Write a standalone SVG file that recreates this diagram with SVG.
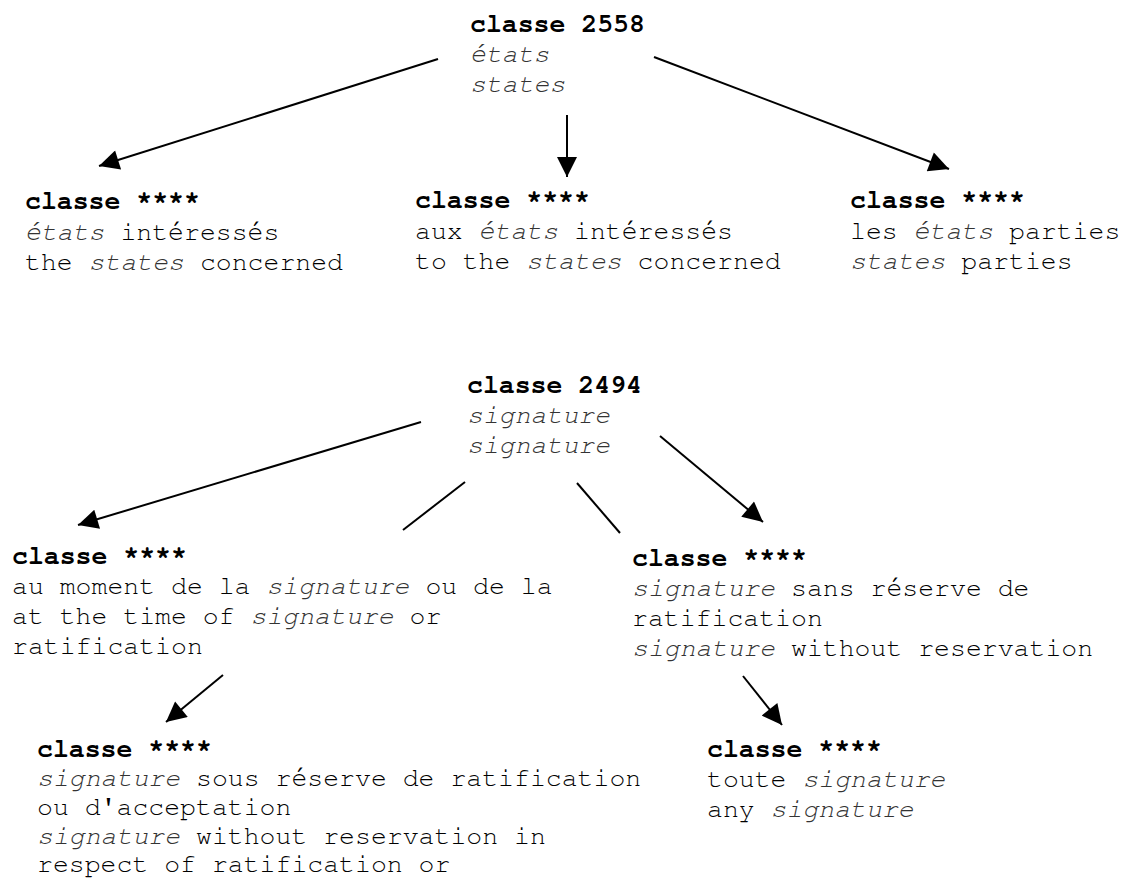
<svg xmlns="http://www.w3.org/2000/svg" width="1127" height="881" viewBox="0 0 1127 881">
<style>
text { font-family: "Nimbus Mono PS", "Nimbus Mono L", "FreeMono", "Courier New", "Liberation Mono", monospace; font-size: 26.5px; fill: #000; }
.b { font-weight: bold; }
.i { font-style: italic; fill: #333; }
.c { stroke: #000; stroke-width: 2; fill: none; }
</style>
<defs>
<marker id="ah" viewBox="0 0 10 10" refX="10" refY="5" markerUnits="userSpaceOnUse" markerWidth="26" markerHeight="20" orient="auto">
<path d="M0,0 L10,5 L0,10 z" fill="#000"/>
</marker>
</defs>
<rect width="1127" height="881" fill="#fff"/>
<g id="connectors">
<line class="c" x1="438" y1="59" x2="99" y2="166" marker-end="url(#ah)"/>
<line class="c" x1="567" y1="115" x2="567" y2="177" marker-end="url(#ah)"/>
<line class="c" x1="654" y1="57" x2="949" y2="169" marker-end="url(#ah)"/>
<line class="c" x1="421" y1="422" x2="78" y2="525" marker-end="url(#ah)"/>
<line class="c" x1="465" y1="482" x2="403" y2="530"/>
<line class="c" x1="577" y1="483" x2="620" y2="533"/>
<line class="c" x1="660" y1="436" x2="763" y2="522" marker-end="url(#ah)"/>
<line class="c" x1="223" y1="675" x2="166" y2="722" marker-end="url(#ah)"/>
<line class="c" x1="743" y1="676" x2="782" y2="725" marker-end="url(#ah)"/>
</g>
<g id="root1">
<text x="470" y="32" class="b">classe 2558</text>
<text x="470" y="62" class="i">états</text>
<text x="470" y="92" class="i">states</text>
</g>
<g id="c1">
<text x="25" y="209" class="b">classe ****</text>
<text x="25" y="240"><tspan class="i">états</tspan> intéressés</text>
<text x="25" y="270">the <tspan class="i">states</tspan> concerned</text>
</g>
<g id="c2">
<text x="415" y="208" class="b">classe ****</text>
<text x="415" y="239">aux <tspan class="i">états</tspan> intéressés</text>
<text x="415" y="269">to the <tspan class="i">states</tspan> concerned</text>
</g>
<g id="c3">
<text x="850" y="208" class="b">classe ****</text>
<text x="850" y="239">les <tspan class="i">états</tspan> parties</text>
<text x="850" y="269"><tspan class="i">states</tspan> parties</text>
</g>
<g id="root2">
<text x="467" y="393" class="b">classe 2494</text>
<text x="467" y="423" class="i">signature</text>
<text x="467" y="453" class="i">signature</text>
</g>
<g id="c4">
<text x="12" y="564" class="b">classe ****</text>
<text x="12" y="594">au moment de la <tspan class="i">signature</tspan> ou de la</text>
<text x="12" y="624">at the time of <tspan class="i">signature</tspan> or</text>
<text x="12" y="654">ratification</text>
</g>
<g id="c5">
<text x="632" y="566" class="b">classe ****</text>
<text x="632" y="596"><tspan class="i">signature</tspan> sans réserve de</text>
<text x="632" y="626">ratification</text>
<text x="632" y="656"><tspan class="i">signature</tspan> without reservation</text>
</g>
<g id="c6">
<text x="37" y="757" class="b">classe ****</text>
<text x="37" y="786"><tspan class="i">signature</tspan> sous réserve de ratification</text>
<text x="37" y="815">ou d'acceptation</text>
<text x="37" y="844"><tspan class="i">signature</tspan> without reservation in</text>
<text x="37" y="872">respect of ratification or</text>
</g>
<g id="c7">
<text x="707" y="757" class="b">classe ****</text>
<text x="707" y="787">toute <tspan class="i">signature</tspan></text>
<text x="707" y="817">any <tspan class="i">signature</tspan></text>
</g>
</svg>
